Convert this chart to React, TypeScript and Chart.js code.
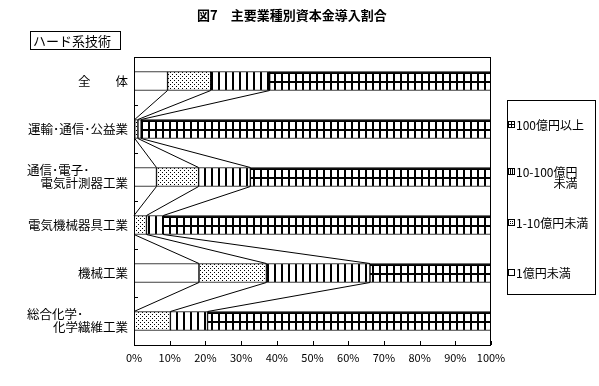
import React, { useEffect, useRef } from 'react';
import { Chart, registerables } from 'chart.js';

Chart.register(...registerables);

const titleText = '図7　主要業種別資本金導入割合';
const subTitleText = 'ハード系技術';
const categoryLines: string[][] = [
  ['全　　体'],
  ['運輸･通信･公益業'],
  ['通信･電子･', '電気計測器工業'],
  ['電気機械器具工業'],
  ['機械工業'],
  ['総合化学･', '化学繊維工業'],
];
const seriesNames = ['1億円未満', '1-10億円未満', '10-100億円未満', '100億円以上'];
const legendLines: string[][] = [['100億円以上'], ['10-100億円', '未満'], ['1-10億円未満'], ['1億円未満']];
const under1 = [9.4, 0.2, 6.3, 0, 18.2, 0];
const from1to10 = [12.1, 0.9, 11.8, 3.5, 18.9, 10.2];
const from10to100 = [16.5, 0.9, 14.5, 4.7, 29.0, 10.4];
const over100 = [62.0, 98.0, 67.4, 91.8, 33.9, 79.4];
const xTicks = [0, 10, 20, 30, 40, 50, 60, 70, 80, 90, 100];

const FONT = '"Noto Sans CJK JP", "Noto Sans", sans-serif';
const BAR = 19;

type Kind = 'white' | 'dots' | 'vlines' | 'grid';

function makeTile(kind: Kind): HTMLCanvasElement {
  const c = document.createElement('canvas');
  let w = 1, h = 1;
  if (kind === 'dots') { w = 4; h = 4; }
  if (kind === 'vlines') { w = 7; h = 1; }
  if (kind === 'grid') { w = 7; h = 9; }
  c.width = w; c.height = h;
  const g = c.getContext('2d')!;
  g.fillStyle = '#fff';
  g.fillRect(0, 0, w, h);
  g.fillStyle = '#000';
  if (kind === 'dots') { g.fillRect(0, 0, 1, 1); g.fillRect(2, 2, 1, 1); }
  if (kind === 'vlines') { g.fillRect(0, 0, 2, 1); }
  if (kind === 'grid') { g.fillRect(0, 0, 2, h); g.fillRect(0, 0, w, 2); }
  return c;
}

const kinds: Kind[] = ['white', 'dots', 'vlines', 'grid'];

export default function App() {
  const ref = useRef<HTMLCanvasElement | null>(null);

  useEffect(() => {
    document.body.style.margin = '0';
    const canvas = ref.current!;
    const tiles: Record<string, HTMLCanvasElement> = {};
    kinds.forEach((k) => (tiles[k] = makeTile(k)));

    const bg = (kind: Kind) => (c: any) => {
      const chart = c.chart;
      const p = chart.ctx.createPattern(tiles[kind], 'repeat');
      const ys = chart.scales && chart.scales.y;
      if (p && ys && typeof c.dataIndex === 'number' && chart.chartArea) {
        const top = Math.round(ys.getPixelForValue(c.dataIndex) - BAR / 2);
        p.setTransform(new DOMMatrix().translate(chart.chartArea.left, top));
      }
      return p || '#fff';
    };

    const values = [under1, from1to10, from10to100, over100];

    const drawSwatch = (ctx: CanvasRenderingContext2D, kind: Kind, x: number, y: number) => {
      const s = 7;
      ctx.fillStyle = '#fff';
      ctx.fillRect(x, y, s, s);
      ctx.fillStyle = '#000';
      if (kind === 'dots') {
        for (let i = 1; i < s - 1; i++) for (let j = 1; j < s - 1; j++) if ((i + j) % 2 === 0 && i % 2 === 0) ctx.fillRect(x + i, y + j, 1, 1);
      }
      if (kind === 'vlines') { ctx.fillRect(x + 2, y, 1, s); ctx.fillRect(x + 4, y, 1, s); }
      if (kind === 'grid') { ctx.fillRect(x + 3, y, 1, s); ctx.fillRect(x, y + 3, s, 1); }
      ctx.strokeRect(x + 0.5, y + 0.5, s - 1, s - 1);
    };

    const decor = {
      id: 'decor',
      beforeDraw(chart: any) {
        const ctx = chart.ctx;
        ctx.save();
        ctx.fillStyle = '#fff';
        ctx.fillRect(0, 0, chart.width, chart.height);
        ctx.restore();
      },
      afterDatasetsDraw(chart: any) {
        const ctx = chart.ctx;
        const xs = chart.scales.x;
        const ys = chart.scales.y;
        const a = chart.chartArea;
        ctx.save();
        ctx.strokeStyle = '#000';
        ctx.lineWidth = 1;
        // series connector lines
        const metas = [0, 1, 2].map((k) => chart.getDatasetMeta(k));
        for (let i = 0; i < categoryLines.length - 1; i++) {
          metas.forEach((m: any) => {
            const e1 = m.data[i];
            const e2 = m.data[i + 1];
            ctx.beginPath();
            ctx.moveTo(e1.x, e1.y + e1.height / 2);
            ctx.lineTo(e2.x, e2.y - e2.height / 2);
            ctx.stroke();
          });
        }
        // frame
        ctx.strokeRect(Math.round(a.left) + 0.5, Math.round(a.top) + 0.5, Math.round(a.right - a.left) - 1, Math.round(a.bottom - a.top));
        // x ticks (inside)
        xTicks.forEach((v) => {
          const px = Math.round(xs.getPixelForValue(v)) + 0.5;
          ctx.beginPath();
          ctx.moveTo(px, a.bottom);
          ctx.lineTo(px, a.bottom - 4);
          ctx.stroke();
        });
        // y ticks (inside) at category boundaries
        for (let i = 0; i <= categoryLines.length; i++) {
          const py = Math.round(ys.getPixelForValue(i - 0.5)) + 0.5;
          ctx.beginPath();
          ctx.moveTo(a.left, py);
          ctx.lineTo(a.left + 4, py);
          ctx.stroke();
        }
        // category labels
        ctx.fillStyle = '#000';
        ctx.font = `12.5px ${FONT}`;
        ctx.textBaseline = 'middle';
        categoryLines.forEach((lines, i) => {
          const cy = ys.getPixelForValue(i);
          if (lines.length === 1) {
            ctx.textAlign = 'right';
            ctx.fillText(lines[0], a.left - 6, cy);
          } else {
            ctx.textAlign = 'left';
            ctx.fillText(lines[0], 27, cy - 6.5);
            ctx.textAlign = 'right';
            ctx.fillText(lines[1], a.left - 6, cy + 6.5);
          }
        });
        // title
        ctx.font = `bold 13px ${FONT}`;
        ctx.textAlign = 'left';
        ctx.fillText(titleText, 197, 15);
        // subtitle box
        ctx.strokeRect(30.5, 31.5, 90, 18);
        ctx.font = `13px ${FONT}`;
        ctx.fillText(subTitleText, 33, 41);
        // legend
        ctx.strokeRect(507.5, 100.5, 88, 194);
        ctx.font = `12px ${FONT}`;
        const legendY = [125, 172, 223, 273];
        const legendKinds: Kind[] = ['grid', 'vlines', 'dots', 'white'];
        legendLines.forEach((lines, j) => {
          const y = legendY[j];
          drawSwatch(ctx, legendKinds[j], 508, y - 4);
          ctx.fillStyle = '#000';
          ctx.textAlign = 'left';
          ctx.fillText(lines[0], 516, y);
          if (lines.length > 1) {
            const w = ctx.measureText(lines[0]).width;
            ctx.textAlign = 'right';
            ctx.fillText(lines[1], 516 + w, y + 11);
          }
        });
        ctx.restore();
      },
    };

    const chart = new Chart(canvas, {
      type: 'bar',
      data: {
        labels: categoryLines.map((l) => l.join('')),
        datasets: values.map((vals, k) => ({
          label: seriesNames[k],
          data: vals,
          backgroundColor: bg(kinds[k]) as any,
          borderColor: '#000',
          borderWidth: 1,
          borderSkipped: false,
          barThickness: BAR,
        })),
      },
      options: {
        indexAxis: 'y',
        responsive: false,
        animation: false,
        events: [],
        layout: { padding: { left: 0, top: 57, right: 108, bottom: 0 } },
        plugins: {
          legend: { display: false },
          title: { display: false },
          tooltip: { enabled: false },
        },
        scales: {
          x: {
            stacked: true,
            min: 0,
            max: 100,
            grid: { display: false, drawTicks: false },
            border: { display: false },
            ticks: {
              stepSize: 10,
              color: '#000',
              padding: 6,
              maxRotation: 0,
              font: { family: FONT, size: 11 },
              callback: (v: any) => `${v}%`,
            },
            afterFit: (s: any) => { s.height = 41; },
          },
          y: {
            stacked: true,
            grid: { display: false, drawTicks: false },
            border: { display: false },
            ticks: { display: false },
            afterFit: (s: any) => { s.width = 134; },
          },
        },
      },
      plugins: [decor],
    });
    return () => chart.destroy();
  }, []);

  return (
    <div style={{ width: 599, height: 386 }}>
      <canvas ref={ref} width={599} height={386} />
    </div>
  );
}
